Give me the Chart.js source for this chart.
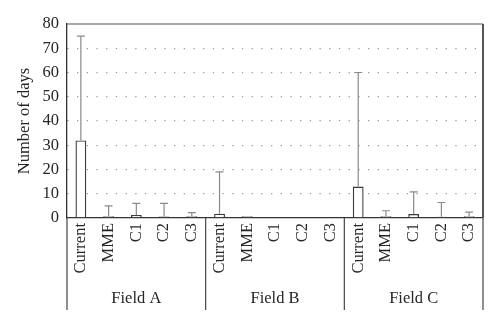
<!DOCTYPE html>
<html>
<head>
<meta charset="utf-8">
<script src="https://cdn.jsdelivr.net/npm/chart.js@4/dist/chart.umd.min.js"></script>
<style>
  html, body { margin: 0; padding: 0; background: #fff; }
  #wrap { width: 500px; height: 329px; }
</style>
</head>
<body>
<div id="wrap"><canvas id="c" width="500" height="329"></canvas></div>
<script>
// Scenario labels within each field, and the fields themselves
const scenarios = ['Current', 'MME', 'C1', 'C2', 'C3'];
const fields = ['Field A', 'Field B', 'Field C'];

// Mean number of days per field/scenario
const meanFieldA = [32, 0.7, 1.2, 0.6, 0.7];
const meanFieldB = [1.8, 0.7, 0, 0, 0];
const meanFieldC = [13, 0.7, 1.6, 0.5, 0.7];

// Upper end of the error bars (null = no bar)
const upperFieldA = [75, 5, 6, 6, 2.2];
const upperFieldB = [19, null, null, null, null];
const upperFieldC = [60, 3, 10.8, 6.4, 2.4];

// Y-axis ticks
const yTicks = [0, 10, 20, 30, 40, 50, 60, 70, 80];

const categories = fields.flatMap(() => scenarios);
const meanDays = [...meanFieldA, ...meanFieldB, ...meanFieldC];
const upperDays = [...upperFieldA, ...upperFieldB, ...upperFieldC];

const FONT = '"Liberation Serif", "Times New Roman", serif';
const TEXT = '#262626';
const FSIZE = 16.5;

// Error bars drawn from the bar top up to the upper value
const errorBars = {
  id: 'errorBars',
  afterDatasetsDraw(chart) {
    const meta = chart.getDatasetMeta(0);
    const y = chart.scales.y;
    const ctx = chart.ctx;
    ctx.save();
    ctx.strokeStyle = '#8a8a8a';
    ctx.lineWidth = 1.2;
    meta.data.forEach((bar, i) => {
      const up = upperDays[i];
      if (up === null || up === undefined) return;
      const yTop = y.getPixelForValue(up);
      const yBase = y.getPixelForValue(meanDays[i]);
      ctx.beginPath();
      ctx.moveTo(bar.x, yBase);
      ctx.lineTo(bar.x, yTop);
      ctx.moveTo(bar.x - 4, yTop);
      ctx.lineTo(bar.x + 4, yTop);
      ctx.stroke();
    });
    ctx.restore();
  }
};

// Plot frame (top/right) plus field separators and field labels under the axis
const frameAndGroups = {
  id: 'frameAndGroups',
  afterDraw(chart) {
    const { ctx, chartArea: a } = chart;
    const x = chart.scales.x;
    ctx.save();
    ctx.strokeStyle = '#555';
    ctx.lineWidth = 1.2;
    ctx.beginPath();
    ctx.moveTo(a.left, a.top);
    ctx.lineTo(a.right, a.top);
    ctx.stroke();
    ctx.lineWidth = 2;
    ctx.beginPath();
    ctx.moveTo(a.right, a.top);
    ctx.lineTo(a.right, a.bottom);
    ctx.stroke();

    const n = scenarios.length;
    const step = (x.getPixelForValue(1) - x.getPixelForValue(0));
    ctx.strokeStyle = '#444';
    ctx.lineWidth = 1.2;
    ctx.fillStyle = TEXT;
    ctx.font = FSIZE + 'px ' + FONT;
    ctx.textAlign = 'center';
    ctx.textBaseline = 'middle';
    for (let g = 0; g <= fields.length; g++) {
      const xb = x.getPixelForValue(g * n) - step / 2;
      ctx.beginPath();
      ctx.moveTo(xb, a.bottom);
      ctx.lineTo(xb, 310);
      ctx.stroke();
    }
    fields.forEach((f, g) => {
      const xl = x.getPixelForValue(g * n) - step / 2;
      const xr = x.getPixelForValue(g * n + n - 1) + step / 2;
      ctx.fillText(f, (xl + xr) / 2, 299);
    });
    ctx.restore();
  }
};

new Chart(document.getElementById('c'), {
  type: 'bar',
  data: {
    labels: categories,
    datasets: [{
      data: meanDays,
      backgroundColor: '#ffffff',
      borderColor: '#3a3a3a',
      borderWidth: ctx => (ctx.raw > 0 ? 1.4 : 0),
      categoryPercentage: 1,
      barPercentage: 0.39
    }]
  },
  options: {
    responsive: false,
    animation: false,
    devicePixelRatio: 1,
    layout: { padding: { top: 24, right: 17, left: 0, bottom: 0 } },
    plugins: { legend: { display: false }, tooltip: { enabled: false } },
    scales: {
      x: {
        grid: { display: false, drawTicks: false },
        border: { display: true, color: '#333', width: 1.3 },
        ticks: {
          color: TEXT,
          font: { family: FONT, size: FSIZE },
          minRotation: 90, maxRotation: 90,
          autoSkip: false,
          padding: 5
        },
        afterFit(s) { s.height = 111; }
      },
      y: {
        min: 0, max: 80,
        afterBuildTicks(s) { s.ticks = yTicks.map(v => ({ value: v })); },
        grid: {
          drawTicks: false,
          color: c => (c.tick.value === 0 || c.tick.value === 80) ? 'rgba(0,0,0,0)' : '#9a9a9a',
          lineWidth: 1.3
        },
        border: { display: true, color: '#333', width: 1.3, dash: [1.3, 8.4] },
        ticks: {
          color: TEXT,
          font: { family: FONT, size: FSIZE },
          padding: 8
        },
        title: {
          display: true,
          text: 'Number of days',
          color: TEXT,
          font: { family: FONT, size: FSIZE },
          padding: { top: 15, bottom: 0 }
        },
        afterFit(s) { s.width = 67; }
      }
    }
  },
  plugins: [errorBars, frameAndGroups]
});
</script>
</body>
</html>
